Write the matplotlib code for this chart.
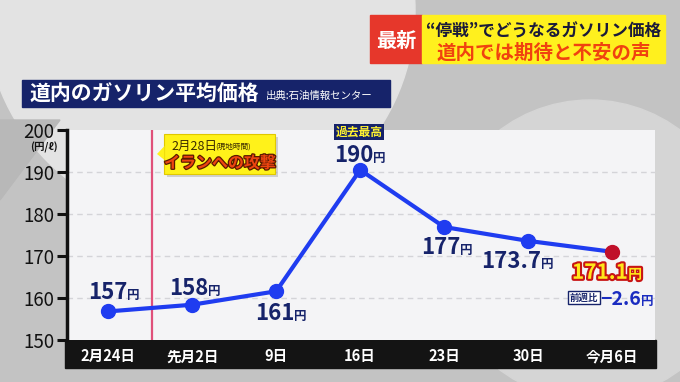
import matplotlib.pyplot as plt
import matplotlib.patheffects as pe
from matplotlib.patches import Rectangle, Circle, Polygon, FancyBboxPatch

plt.rcParams['font.family'] = ['Noto Sans CJK JP', 'DejaVu Sans']

# data
dates = ['2月24日', '先月2日', '9日', '16日', '23日', '30日', '今月6日']
prices = [156.8, 158.4, 161.6, 190.5, 176.9, 173.6, 171.0]
price_labels = ['157', '158', '161', '190', '177', '173.7', '171.1']
week_change = '−2.6'
yticks = [150, 160, 170, 180, 190, 200]
event_x = 0.52  # 2/28 between 2月24日 and 先月2日

navy = '#16236a'
blue = '#1f3cf0'

fig = plt.figure(figsize=(6.8, 3.82), dpi=100)

# background in pixel coordinates
bg = fig.add_axes([0, 0, 1, 1], zorder=0)
bg.set_xlim(0, 680)
bg.set_ylim(382, 0)
bg.axis('off')
bg.add_patch(Rectangle((0, 0), 680, 382, color='#c3c3c3'))
bg.add_patch(Circle((200, 10), 215, color='#e3e3e3'))
bg.add_patch(Circle((590, 250), 150, color='#d5d5d5'))
bg.add_patch(Polygon([(0, 120), (60, 120), (0, 200)], color='#b8b8b8'))
# black date band
bg.add_patch(Rectangle((65, 340), 591, 28, color='#141414'))

# title bar
bg.add_patch(Rectangle((22, 80), 368, 27, color=navy))
bg.text(30, 94, '道内のガソリン平均価格', color='white', fontsize=15,
        fontweight='bold', va='center', ha='left')
bg.text(266, 96, '出典:石油情報センター', color='white', fontsize=7.5,
        va='center', ha='left')

# top right headline
bg.add_patch(Rectangle((370, 15), 52, 48, color='#e6372b'))
bg.add_patch(Rectangle((422, 15), 243, 48, color='#fff01e'))
bg.text(396, 40, '最新', color='white', fontsize=14.5, fontweight='bold',
        ha='center', va='center')
bg.text(544, 32, '“停戦”でどうなるガソリン価格', color='#1a1a3a', fontsize=12,
        fontweight='bold', ha='center', va='center')
bg.text(544, 53, '道内では期待と不安の声', color='#f0420f', fontsize=14,
        fontweight='bold', ha='center', va='center')

# main chart
ax = fig.add_axes([67 / 680, 1 - 340 / 382, 588 / 680, 210 / 382], zorder=1)
ax.set_facecolor('#f4f4f6')
x = list(range(len(dates)))
ax.set_xlim(-0.49, 6.51)
ax.set_ylim(150, 200)

for s in ['top', 'right', 'bottom']:
    ax.spines[s].set_visible(False)
ax.spines['left'].set_linewidth(2.5)
ax.spines['left'].set_color('#111111')

ax.set_yticks(yticks)
ax.tick_params(axis='y', length=7, width=2.2, color='#111111',
               labelsize=13.5, pad=2, labelcolor='#111111')
ax.set_xticks(x)
ax.set_xticklabels(dates, color='white', fontsize=10.5, fontweight='bold')
ax.tick_params(axis='x', length=0, pad=6)

for v in yticks[1:-1]:
    ax.axhline(v, color='#d4d4d8', lw=1, ls=(0, (4, 3)), zorder=1)

ax.axvline(event_x, color='#e0507a', lw=1.6, zorder=2)

ax.plot(x, prices, color=blue, lw=3, zorder=3)
ax.plot(x[:-1], prices[:-1], 'o', color=blue, ms=10, zorder=4)
ax.plot(x[-1], prices[-1], 'o', color='#c0102a', ms=10, zorder=4)

ax.text(-0.76, 197.2, '(円/ℓ)', fontsize=7.5, fontweight='bold',
        color='#111111', ha='center', va='top', clip_on=False)

# value labels (offset in pixels from the point: centre dx, centre dy)
offsets = [(5, 20), (2, 18), (4, -21), (-1, 16), (2, -19), (-1, -19)]
for i, (dx, dy) in enumerate(offsets):
    split = dx + 14
    ax.annotate(price_labels[i], (x[i], prices[i]), xytext=(split, dy - 8),
                textcoords='offset pixels', ha='right', va='baseline',
                fontsize=16, fontweight='bold', color=navy, zorder=5)
    ax.annotate('円', (x[i], prices[i]), xytext=(split, dy - 8),
                textcoords='offset pixels', ha='left', va='baseline',
                fontsize=9, fontweight='bold', color=navy, zorder=5)

# record high tag
ax.annotate('過去最高', (x[3], prices[3]), xytext=(-1, 38),
            textcoords='offset pixels', ha='center', va='center',
            fontsize=8.5, fontweight='bold', color='#fff230',
            bbox=dict(boxstyle='square,pad=0.15', fc=navy, ec='none'))

# latest value
stroke = [pe.withStroke(linewidth=3, foreground='#c81414')]
ax.annotate(price_labels[-1], (x[-1], prices[-1]), xytext=(16, -27),
            textcoords='offset pixels', ha='right', va='baseline',
            fontsize=15, fontweight='bold', color='#ffe81a',
            path_effects=stroke, zorder=6)
ax.annotate('円', (x[-1], prices[-1]), xytext=(16, -27),
            textcoords='offset pixels', ha='left', va='baseline',
            fontsize=10, fontweight='bold', color='#ffe81a',
            path_effects=stroke, zorder=6)
ax.annotate('前週比', (x[-1], prices[-1]), xytext=(-28, -46),
            textcoords='offset pixels', ha='center', va='center',
            fontsize=6.8, fontweight='bold', color=navy,
            bbox=dict(boxstyle='square,pad=0.15', fc='white', ec=navy, lw=1))
ax.annotate(week_change, (x[-1], prices[-1]), xytext=(29, -53),
            textcoords='offset pixels', ha='right', va='baseline',
            fontsize=14, fontweight='bold', color='#1a2cc0')
ax.annotate('円', (x[-1], prices[-1]), xytext=(29, -53),
            textcoords='offset pixels', ha='left', va='baseline',
            fontsize=9, fontweight='bold', color='#1a2cc0')

# event callout, on top in pixel coordinates
top = fig.add_axes([0, 0, 1, 1], zorder=3)
top.set_xlim(0, 680)
top.set_ylim(382, 0)
top.axis('off')
top.add_patch(FancyBboxPatch((167, 137), 111, 40, boxstyle='square,pad=0',
                             fc='#8a8a8a', ec='none', alpha=0.35))
top.add_patch(FancyBboxPatch((164, 134), 111, 40, boxstyle='square,pad=0',
                             fc='#fff21a', ec='#e0c800', lw=0.8))
top.add_patch(Polygon([(164.5, 146), (157, 154), (164.5, 160)],
                      fc='#fff21a', ec='none'))
top.text(171, 146, '2月28日', fontsize=9, color='#3a2a00', va='center')
top.text(215, 147, '(現地時間)', fontsize=5.5, color='#3a2a00', va='center')
top.text(220, 163, 'イランへの攻撃', fontsize=11.5, fontweight='bold',
         color='#ee4510', ha='center', va='center',
         path_effects=[pe.withStroke(linewidth=1.8, foreground='#5a1a00')])

fig.savefig('out.png', dpi=100)
